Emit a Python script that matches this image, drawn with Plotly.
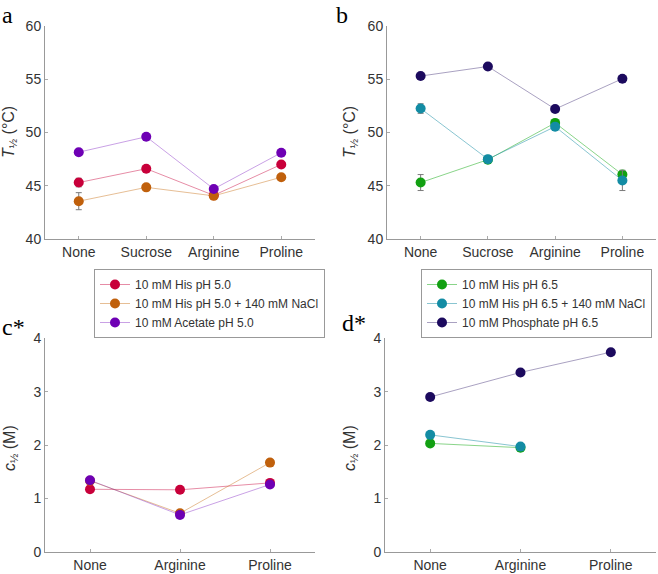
import plotly.graph_objects as go

# ---- data ----
cats_T = ["None", "Sucrose", "Arginine", "Proline"]
cats_c = ["None", "Arginine", "Proline"]

names_a = ["10 mM His pH 5.0", "10 mM His pH 5.0 + 140 mM NaCl", "10 mM Acetate pH 5.0"]
names_b = ["10 mM His pH 6.5", "10 mM His pH 6.5 + 140 mM NaCl", "10 mM Phosphate pH 6.5"]

T_his50 = [45.3, 46.6, 44.1, 47.0]
T_his50_err = [0.4, 0.15, 0.1, 0.15]
T_his50nacl = [43.55, 44.85, 44.05, 45.8]
T_his50nacl_err = [0.8, 0.15, 0.1, 0.15]
T_ace50 = [48.15, 49.6, 44.7, 48.1]
T_ace50_err = [0.1, 0.1, 0.1, 0.1]

T_his65 = [45.3, 47.45, 50.9, 46.05]
T_his65_err = [0.75, 0.15, 0.2, 0.3]
T_his65nacl = [52.25, 47.5, 50.55, 45.5]
T_his65nacl_err = [0.45, 0.15, 0.15, 0.95]
T_pho65 = [55.3, 56.2, 52.2, 55.05]
T_pho65_err = [0.1, 0.1, 0.1, 0.1]

c_his50 = [1.17, 1.16, 1.29]
c_his50nacl = [1.33, 0.72, 1.67]
c_ace50 = [1.34, 0.69, 1.26]

c_his65 = [2.03, 1.95, None]
c_his65nacl = [2.19, 1.97, None]
c_pho65 = [2.90, 3.36, 3.74]

col_a = ["#c8003a", "#c0600c", "#6e00b4"]
line_a = ["rgba(200,0,58,0.45)", "rgba(200,110,20,0.45)", "rgba(120,20,190,0.4)"]
col_b = ["#12a012", "#138ca4", "#1c0a5e"]
line_b = ["rgba(20,170,20,0.5)", "rgba(20,140,164,0.5)", "rgba(40,20,100,0.4)"]

fig = go.Figure()

def add(x, y, err, name, col, lcol, xa, ya, legend, show):
    kw = {}
    if err is not None:
        kw["error_y"] = dict(type="data", array=err, visible=True, color="#7a7a7a",
                             thickness=1, width=3)
    fig.add_trace(go.Scatter(
        x=x, y=y, name=name, mode="lines+markers",
        line=dict(color=lcol, width=1),
        marker=dict(color=col, size=10),
        xaxis=xa, yaxis=ya, legend=legend, showlegend=show,
        connectgaps=False, **kw))

for y, e, n, c, l in zip([T_his50, T_his50nacl, T_ace50],
                         [T_his50_err, T_his50nacl_err, T_ace50_err],
                         names_a, col_a, line_a):
    add(cats_T, y, e, n, c, l, "x", "y", "legend", True)
for y, e, n, c, l in zip([T_his65, T_his65nacl, T_pho65],
                         [T_his65_err, T_his65nacl_err, T_pho65_err],
                         names_b, col_b, line_b):
    add(cats_T, y, e, n, c, l, "x2", "y2", "legend2", True)
for y, n, c, l in zip([c_his50, c_his50nacl, c_ace50], names_a, col_a, line_a):
    add(cats_c, y, None, n, c, l, "x3", "y3", "legend", False)
for y, n, c, l in zip([c_his65, c_his65nacl, c_pho65], names_b, col_b, line_b):
    add(cats_c, y, None, n, c, l, "x4", "y4", "legend2", False)

W, H = 658, 574
def px(v): return v / W
def py(v): return 1 - v / H

axis_common = dict(showline=True, linecolor="#999999", linewidth=1, ticks="inside",
                   ticklen=3, tickcolor="#aaaaaa", showgrid=False, zeroline=False,
                   tickfont=dict(family="Liberation Sans, Arial", size=14, color="#333333"),
                   mirror=False, automargin=False)

fig.update_layout(
    width=W, height=H, margin=dict(l=0, r=0, t=0, b=0, autoexpand=False),
    paper_bgcolor="white", plot_bgcolor="white",
    font=dict(family="Liberation Sans, Arial", color="#333333"),
    xaxis=dict(domain=[px(45), px(315)], anchor="y", type="category",
               range=[-0.5, 3.5], **axis_common),
    yaxis=dict(domain=[py(239), py(26)], anchor="x", range=[40, 60], dtick=5,
               **axis_common),
    xaxis2=dict(domain=[px(387), px(656)], anchor="y2", type="category",
                range=[-0.5, 3.5], **axis_common),
    yaxis2=dict(domain=[py(239), py(26)], anchor="x2", range=[40, 60], dtick=5,
                **axis_common),
    xaxis3=dict(domain=[px(45), px(315)], anchor="y3", type="category",
                range=[-0.5, 2.5], **axis_common),
    yaxis3=dict(domain=[py(551.7), py(338.3)], anchor="x3", range=[0, 4], dtick=1,
                **axis_common),
    xaxis4=dict(domain=[px(385), px(656)], anchor="y4", type="category",
                range=[-0.5, 2.5], **axis_common),
    yaxis4=dict(domain=[py(551.7), py(338.3)], anchor="x4", range=[0, 4], dtick=1,
                **axis_common),
    legend=dict(x=px(94), y=py(269), xanchor="left", yanchor="top",
                bgcolor="white", bordercolor="#999999", borderwidth=1,
                font=dict(family="Liberation Sans, Arial", size=12, color="#333333"),
                tracegroupgap=0, itemwidth=30),
    legend2=dict(x=px(421), y=py(269), xanchor="left", yanchor="top",
                 bgcolor="white", bordercolor="#999999", borderwidth=1,
                 font=dict(family="Liberation Sans, Arial", size=12, color="#333333"),
                 tracegroupgap=0, itemwidth=30),
)

# axis titles as rotated annotations
ttl_font = dict(family="Liberation Sans, Arial", size=16, color="#333333")
for txt, x, y in [("<i>T</i><sub>½</sub> (°C)", 9, 132), ("<i>T</i><sub>½</sub> (°C)", 350, 132),
                  ("<i>c</i><sub>½</sub> (M)", 10, 448), ("<i>c</i><sub>½</sub> (M)", 350, 448)]:
    fig.add_annotation(text=txt, x=px(x), y=py(y), xref="paper", yref="paper",
                       xanchor="center", yanchor="middle", textangle=-90,
                       showarrow=False, font=ttl_font)

serif = dict(family="Liberation Serif, Times New Roman", size=24, color="black")
for txt, x, y in [("a", 0, 0), ("b", 334, 0), ("c*", 0, 312), ("d*", 340, 308)]:
    fig.add_annotation(text=txt, x=px(x), y=py(y), xref="paper", yref="paper",
                       xanchor="left", yanchor="top", showarrow=False, font=serif)

fig.write_html("out.html", config={"displayModeBar": False},
               post_script="document.body.style.margin='0';document.body.style.overflow='hidden';")
